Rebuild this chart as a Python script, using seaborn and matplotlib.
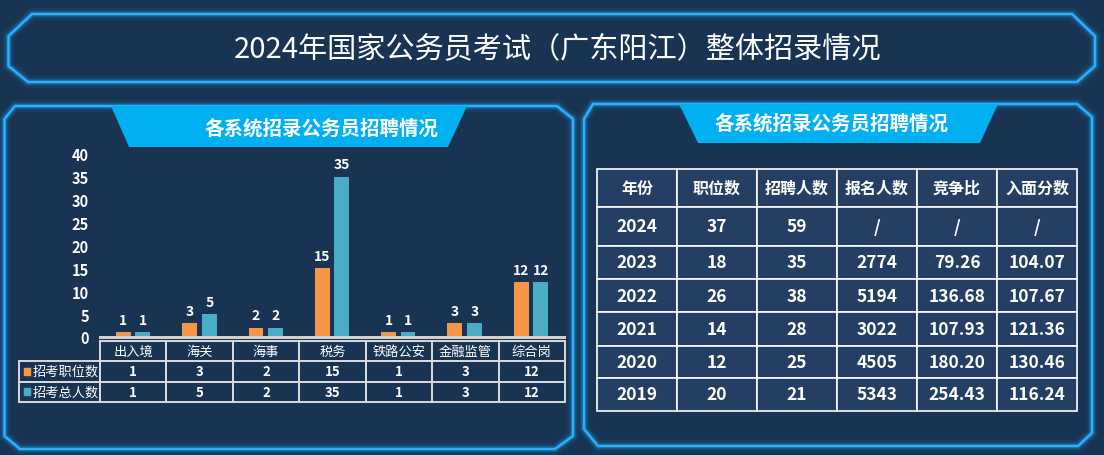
import numpy as np
import pandas as pd
import seaborn as sns
import matplotlib.pyplot as plt
from matplotlib.patches import Polygon
from matplotlib.table import Table

# ---- data ----
categories = ['出入境', '海关', '海事', '税务', '铁路公安', '金融监管', '综合岗']
positions = [1, 3, 2, 15, 1, 3, 12]
people = [1, 5, 2, 35, 1, 3, 12]
series_names = ['招考职位数', '招考总人数']

headers = ['年份', '职位数', '招聘人数', '报名人数', '竞争比', '入面分数']
years = ['2024', '2023', '2022', '2021', '2020', '2019']
posts = ['37', '18', '26', '14', '12', '20']
hires = ['59', '35', '38', '28', '25', '21']
applicants = ['/', '2774', '5194', '3022', '4505', '5343']
ratio = ['/', '79.26', '136.68', '107.93', '180.20', '254.43']
score = ['/', '104.07', '107.67', '121.36', '130.46', '116.24']

title = '2024年国家公务员考试（广东阳江）整体招录情况'
panel_title = '各系统招录公务员招聘情况'

# ---- style ----
bg = '#183452'
frame = '#1ea6f5'
ribbon = '#00b0f0'
orange = '#f79646'
teal = '#4bacc6'
cellbg = '#243f63'

sns.set_theme(style='white')
plt.rcParams['font.family'] = ['Noto Sans CJK SC', 'DejaVu Sans']

W, H = 1104, 456
fig = plt.figure(figsize=(W / 100, H / 100), dpi=100, facecolor=bg)


def box(x0, y0, x1, y1):
    return [x0 / W, 1 - y1 / H, (x1 - x0) / W, (y1 - y0) / H]


# decoration layer in pixel coords
deco = fig.add_axes([0, 0, 1, 1], zorder=0)
deco.set_xlim(0, W)
deco.set_ylim(H, 0)
deco.axis('off')
deco.patch.set_alpha(0)


def glow_frame(pts):
    for lw, a in [(9, 0.06), (6, 0.12), (4, 0.25)]:
        deco.add_patch(Polygon(pts, closed=True, fill=False, ec=frame, lw=lw, alpha=a))
    deco.add_patch(Polygon(pts, closed=True, fill=False, ec='#2ab0ff', lw=1.8))


glow_frame([(32, 15), (1072, 15), (1095, 37), (1095, 67), (1077, 83), (28, 83), (8.5, 67), (8.5, 37)])
glow_frame([(15, 107), (557, 107), (573, 120), (573, 437), (555, 450), (20, 450), (4.5, 437), (4.5, 120)])
glow_frame([(593, 105), (1077, 105), (1092, 118), (1092, 434), (1078, 447), (598, 447), (584, 430), (584, 120)])

deco.text(558, 49, title, color='white', fontsize=21, ha='center', va='center')

deco.add_patch(Polygon([(111, 107), (467, 107), (448, 148), (129, 148)], closed=True, fc=ribbon, ec='none'))
deco.text(321, 129, panel_title, color='white', fontsize=14, fontweight='bold', ha='center', va='center')
deco.add_patch(Polygon([(679, 105), (998, 105), (980, 144), (698, 144)], closed=True, fc=ribbon, ec='none'))
deco.text(831, 124, panel_title, color='white', fontsize=14, fontweight='bold', ha='center', va='center')

# ---- bar chart ----
df = pd.DataFrame({
    '系统': categories * 2,
    '数量': positions + people,
    '类别': [series_names[0]] * len(categories) + [series_names[1]] * len(categories),
})
ax = fig.add_axes(box(100, 155, 564, 338), zorder=2)
ax.patch.set_alpha(0)
sns.barplot(data=df, x='系统', y='数量', hue='类别', palette=[orange, teal],
            width=0.59, gap=0.24, saturation=1, legend=False, ax=ax,
            linewidth=0, edgecolor='none')
ax.set_xlim(-0.5, len(categories) - 0.5)
ax.set_ylim(0, 40)
ax.set_yticks(range(0, 41, 5))
ax.set_xticks([])
ax.set_xlabel('')
ax.set_ylabel('')
for s in ['left', 'top', 'right']:
    ax.spines[s].set_visible(False)
ax.spines['bottom'].set_color('#d0d0d0')
ax.spines['bottom'].set_linewidth(2.2)
ax.tick_params(axis='y', length=0, pad=8, labelcolor='white', labelsize=10.5)
for t in ax.get_yticklabels():
    t.set_fontweight('bold')
for c in ax.containers:
    ax.bar_label(c, fmt='%d', padding=4, color='white', fontsize=10, fontweight='bold')

# ---- data table under the bars ----
tax = fig.add_axes(box(19, 342, 565, 403), zorder=2)
tax.axis('off')
tb = Table(tax, bbox=[0, 0, 1, 1])
lab_w, col_w, row_h = 81, 66.4, 20.3
for j, cat in enumerate(categories):
    c = tb.add_cell(0, j + 1, col_w, row_h, text=cat, loc='center', facecolor='none', edgecolor='#d9d9d9')
    c.get_text().set(color='white', fontsize=9.5)
for i, vals in enumerate([positions, people]):
    c = tb.add_cell(i + 1, 0, lab_w, row_h, text=series_names[i], loc='right', facecolor='none', edgecolor='#d9d9d9')
    c.get_text().set(color='white', fontsize=9.5)
    c.PAD = 0.02
    for j, v in enumerate(vals):
        c = tb.add_cell(i + 1, j + 1, col_w, row_h, text=str(v), loc='center', facecolor='none', edgecolor='#d9d9d9')
        c.get_text().set(color='white', fontsize=9.5, fontweight='bold')
for c in tb.get_celld().values():
    c.set_linewidth(1.4)
tb.auto_set_font_size(False)
tax.add_table(tb)
tax.set_xlim(19, 565)
tax.set_ylim(403, 342)
tax.scatter([27, 27], [372.5, 392.5], marker='s', s=22, c=[orange, teal], clip_on=False)

# ---- right table ----
rax = fig.add_axes(box(597, 170, 1077, 412), zorder=2)
rax.axis('off')
rt = Table(rax, bbox=[0, 0, 1, 1])
heights = [38, 39, 33, 33, 34, 32, 33]
cols = [years, posts, hires, applicants, ratio, score]
for j, h in enumerate(headers):
    c = rt.add_cell(0, j, 80, heights[0], text=h, loc='center', facecolor=cellbg, edgecolor='white')
    c.get_text().set(color='white', fontsize=11.5, fontweight='bold')
for i in range(len(years)):
    for j, col in enumerate(cols):
        c = rt.add_cell(i + 1, j, 80, heights[i + 1], text=col[i], loc='center', facecolor=cellbg, edgecolor='white')
        c.get_text().set(color='white', fontsize=12.5, fontweight='bold')
for c in rt.get_celld().values():
    c.set_linewidth(1.2)
rt.auto_set_font_size(False)
rax.add_table(rt)

fig.savefig('out.png', dpi=100, facecolor=bg)
